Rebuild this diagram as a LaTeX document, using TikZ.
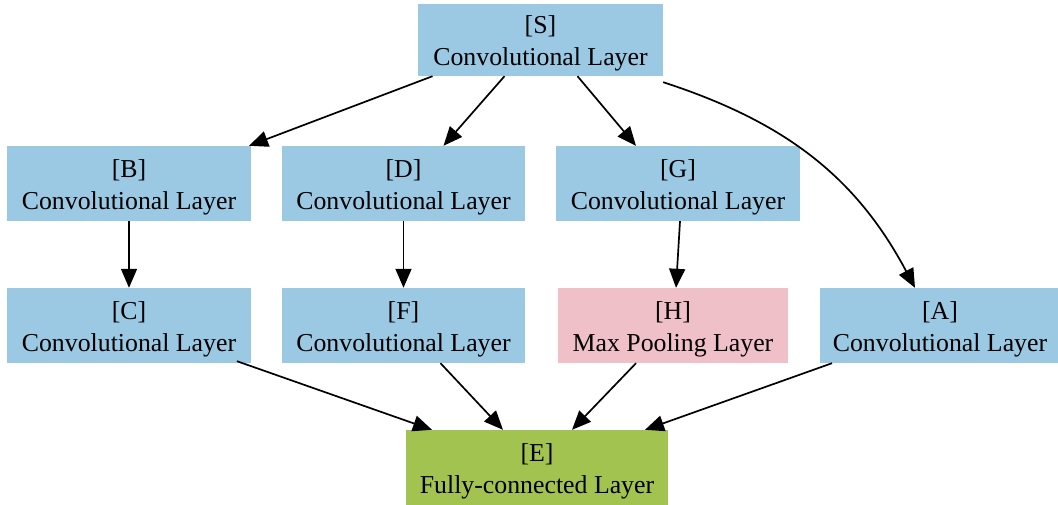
\documentclass[tikz,border=0pt]{standalone}
\usepackage{fontspec}
\setmainfont{Liberation Serif}
\usetikzlibrary{arrows.meta}
\definecolor{cblue}{HTML}{9BC8E2}
\definecolor{cpink}{HTML}{EFC0C8}
\definecolor{cgreen}{HTML}{A3C350}
\newcommand\twoline[2]{\raisebox{-3.5pt}[\height][\depth]{\begin{tabular}{@{}c@{}}#1\\#2\end{tabular}}}
\tikzset{
  box/.style={draw=none, fill=cblue, minimum height=75pt, inner sep=0pt,
    font=\fontsize{25.8}{32}\selectfont, text=black},
  edge/.style={line width=1.7pt, -{Triangle[length=19pt,width=16pt]}},
}
\begin{document}
\begin{tikzpicture}[x=1pt,y=-1pt]
\useasboundingbox (0,0) rectangle (1058,504);
\node[box, minimum width=245pt, minimum height=72pt] (S) at (540.5,40) {\twoline{[S]}{Convolutional Layer}};
\node[box, minimum width=244pt] (B) at (129,183.5) {\twoline{[B]}{Convolutional Layer}};
\node[box, minimum width=243pt] (D) at (403.5,183.5) {\twoline{[D]}{Convolutional Layer}};
\node[box, minimum width=244pt] (G) at (678,183.5) {\twoline{[G]}{Convolutional Layer}};
\node[box, minimum width=244pt] (C) at (129,325.5) {\twoline{[C]}{Convolutional Layer}};
\node[box, minimum width=243pt] (F) at (403.5,325.5) {\twoline{[F]}{Convolutional Layer}};
\node[box, fill=cpink, minimum width=230pt] (H) at (673,325.5) {\twoline{[H]}{Max Pooling Layer}};
\node[box, minimum width=240pt] (A) at (940,325.5) {\twoline{[A]}{Convolutional Layer}};
\node[box, fill=cgreen, minimum width=262pt, minimum height=76pt] (E) at (537,468) {\twoline{[E]}{Fully-connected Layer}};
\draw[edge] ([xshift=-108pt]S.south) -- ([xshift=120pt]B.north);
\draw[edge] ([xshift=-36pt]S.south) -- ([xshift=40pt]D.north);
\draw[edge] ([xshift=37pt]S.south) -- ([xshift=-42pt]G.north);
\draw[edge] ([yshift=-6pt]S.south east) to[out=-18,in=118] ([xshift=-25pt]A.north);
\draw[edge] (B.south) -- (C.north);
\draw[edge] (D.south) -- (F.north);
\draw[edge] ([xshift=2pt]G.south) -- ([xshift=3pt]H.north);
\draw[edge] ([xshift=108pt,yshift=2pt]C.south) -- ([xshift=-105pt]E.north);
\draw[edge] ([xshift=37pt]F.south) -- ([xshift=-34pt]E.north);
\draw[edge] ([xshift=-37pt]H.south) -- ([xshift=35pt]E.north);
\draw[edge] ([xshift=-108pt]A.south) -- ([xshift=108pt]E.north);
\end{tikzpicture}
\end{document}
